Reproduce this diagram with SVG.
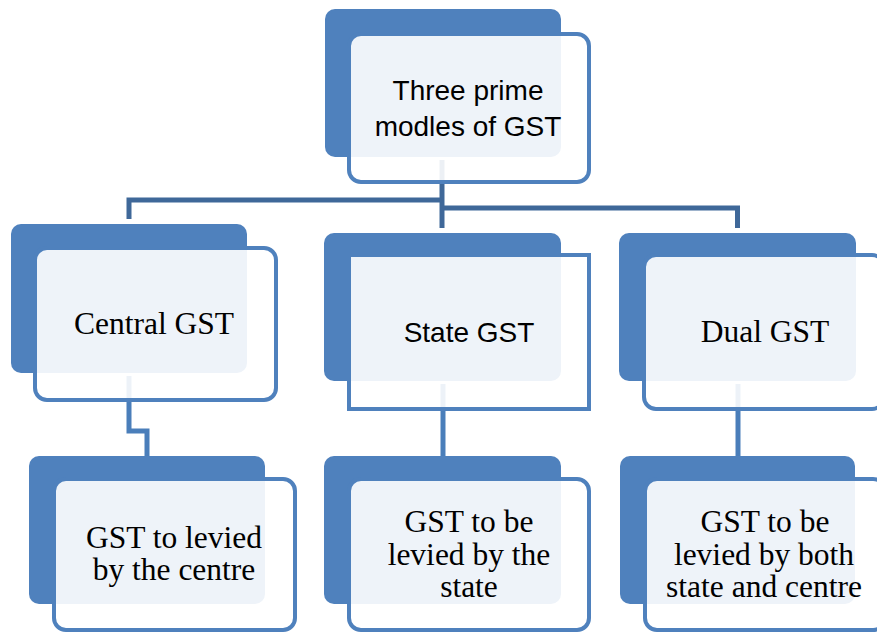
<svg xmlns="http://www.w3.org/2000/svg" width="877" height="632" viewBox="0 0 877 632">
  <style>
    .back { fill: #4F81BD; }
    .front { fill: #FFFFFF; fill-opacity: 0.9; stroke: #4F81BD; stroke-width: 4; }
    .link-top { fill: none; stroke: #3F6899; stroke-width: 5; stroke-linejoin: miter; }
    .link { fill: none; stroke: #4A7EBA; stroke-width: 5; stroke-linejoin: miter; }
    .sans { font-family: "Liberation Sans", Arial, sans-serif; font-size: 28px; fill: #000; text-anchor: middle; }
    .serif { font-family: "Liberation Serif", "Times New Roman", serif; font-size: 31.5px; fill: #000; text-anchor: middle; }
  </style>
  <rect width="877" height="632" fill="#FFFFFF"/>

  <!-- connectors (drawn first so the translucent boxes sit over them) -->
  <g id="connectors">
    <path class="link-top" d="M442,160 V228"/>
    <path class="link-top" d="M442,200 H129 V219"/>
    <path class="link-top" d="M442,208 H737.5 V228"/>
    <path class="link" d="M129,376 V431 H147 V456"/>
    <path class="link" d="M443,384 V456"/>
    <path class="link" d="M738,384 V456"/>
  </g>

  <!-- root -->
  <g id="root">
    <rect class="back" x="325" y="9" width="236" height="148" rx="10"/>
    <rect class="front" x="349" y="34" width="240" height="148" rx="12"/>
    <text class="sans" x="468" y="100">Three prime</text>
    <text class="sans" x="468" y="136">modles of GST</text>
  </g>

  <!-- level 2 -->
  <g id="central-gst">
    <rect class="back" x="11" y="224" width="236" height="149" rx="10"/>
    <rect class="front" x="35" y="248" width="241" height="152" rx="12"/>
    <text class="serif" x="154" y="334">Central GST</text>
  </g>
  <g id="state-gst">
    <rect class="back" x="324" y="233" width="237" height="148" rx="10"/>
    <rect class="front" x="349" y="255" width="240" height="154"/>
    <text class="sans" x="469" y="342">State GST</text>
  </g>
  <g id="dual-gst">
    <rect class="back" x="619" y="233" width="237" height="148" rx="10"/>
    <rect class="front" x="644" y="255" width="240" height="154" rx="12"/>
    <text class="serif" x="765" y="342">Dual GST</text>
  </g>

  <!-- level 3 -->
  <g id="central-levy">
    <rect class="back" x="29" y="456" width="236" height="148" rx="10"/>
    <rect class="front" x="54" y="479" width="241" height="151" rx="12"/>
    <text class="serif" x="174" y="548">GST to levied</text>
    <text class="serif" x="174" y="580">by the centre</text>
  </g>
  <g id="state-levy">
    <rect class="back" x="324" y="456" width="237" height="148" rx="10"/>
    <rect class="front" x="349" y="479" width="240" height="151" rx="12"/>
    <text class="serif" x="469" y="532">GST to be</text>
    <text class="serif" x="469" y="565">levied by the</text>
    <text class="serif" x="469" y="597">state</text>
  </g>
  <g id="dual-levy">
    <rect class="back" x="620" y="456" width="235" height="148" rx="10"/>
    <rect class="front" x="645" y="479" width="240" height="151" rx="12"/>
    <text class="serif" x="765" y="532">GST to be</text>
    <text class="serif" x="764" y="565">levied by both</text>
    <text class="serif" x="764" y="597">state and centre</text>
  </g>
</svg>
